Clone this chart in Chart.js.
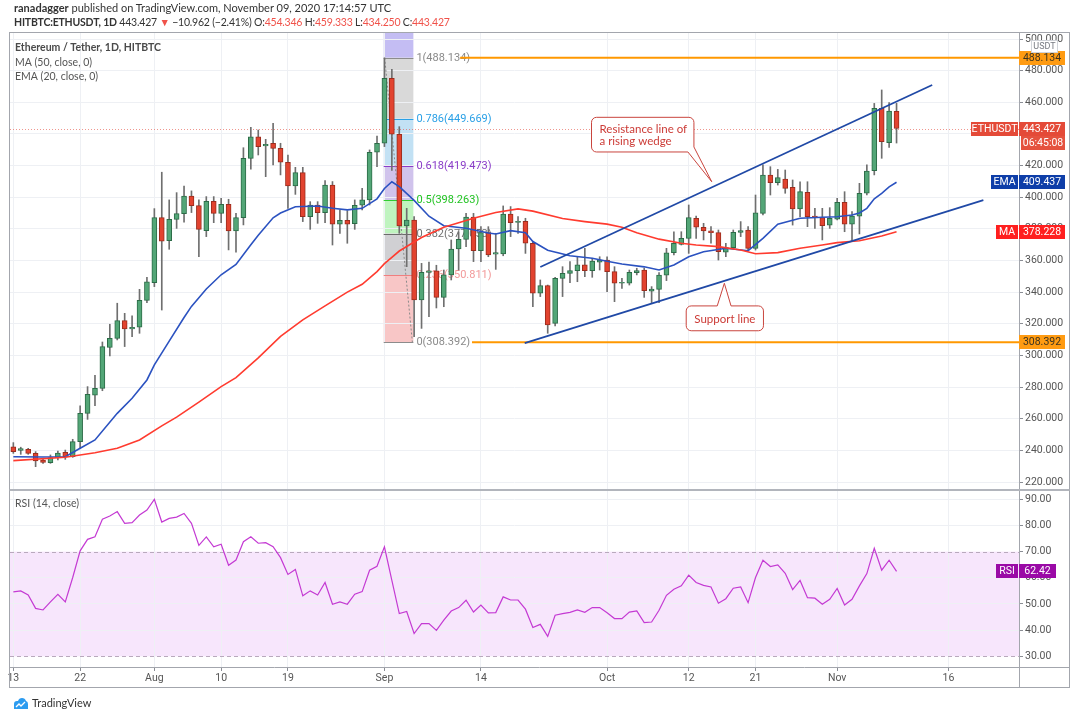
<!DOCTYPE html>
<html>
<head>
<meta charset="utf-8">
<title>ETHUSDT 1D</title>
<script src="https://cdn.jsdelivr.net/npm/chart.js@4.4.1/dist/chart.umd.min.js"></script>
<style>
  body { margin: 0; background: #ffffff; }
  #wrap { position: relative; width: 1083px; height: 716px; overflow: hidden; font-family: Lato, "Noto Sans", sans-serif; color: #333; }
  #chart { position: absolute; left: 0; top: 0; }
  .hd { position: absolute; left: 14px; font-size: 11px; white-space: nowrap; line-height: 14px; }
  .hd2 { font-size: 10.5px; letter-spacing: -0.2px; }
  .red { color: #f0524a; }
  #foot { position: absolute; left: 13px; top: 696px; font-size: 11px; line-height: 14px; display: flex; align-items: center; gap: 3px; color: #333; }
</style>
</head>
<body>
<div id="wrap">
  <canvas id="chart" width="1083" height="716"></canvas>
  <div class="hd" style="top:1px"><b>ranadagger</b> published on TradingView.com, November 09, 2020 17:14:57 UTC</div>
  <div class="hd hd2" style="top:15px"><b>HITBTC:ETHUSDT, 1D</b> 443.427 <span class="red">▼</span> −10.962 (−2.41%) O:<span class="red">454.346</span> H:<span class="red">459.333</span> L:<span class="red">434.250</span> C:<span class="red">443.427</span></div>
  <div id="foot">
    <svg width="16" height="13" viewBox="0 0 16 13"><path d="M1 12 L1 7 Q1 4 4 4 L5 4 Q6 1 9 1 Q12 1 13 4 Q15 4.5 15 7 L15 12 Z" fill="#2d9cf0"/><path d="M3 10 L6 7 L8 9 L12 5" stroke="#fff" stroke-width="1.3" fill="none"/></svg>
    <span>TradingView</span>
  </div>
</div>
<script>
// Daily candles, index 0 = 13 Jul 2020, index 119 = 9 Nov 2020
const openP = [242.3, 240.0, 240.7, 238.1, 233.9, 232.2, 235.4, 238.8, 236.0, 245.5,
  263.4, 274.9, 279.2, 305.0, 310.8, 322.0, 316.7, 317.8, 334.8, 346.0,
  387.1, 372.6, 386.0, 389.6, 400.8, 394.7, 378.9, 397.4, 389.8, 395.5,
  378.7, 387.1, 424.6, 438.1, 432.4, 434.1, 430.9, 422.1, 407.1, 415.5,
  387.7, 395.1, 390.3, 407.7, 382.9, 385.4, 383.3, 394.9, 398.3, 428.4,
  434.1, 475.2, 439.8, 381.8, 385.6, 335.1, 352.5, 353.4, 336.7, 350.9,
  367.3, 373.4, 387.5, 366.2, 377.6, 364.0, 364.1, 389.4, 384.0, 384.8,
  370.9, 339.3, 344.1, 320.3, 348.7, 351.9, 353.6, 357.2, 353.6, 359.0,
  360.3, 353.0, 345.6, 345.6, 352.3, 354.0, 340.7, 341.8, 350.8, 364.9,
  370.1, 374.0, 386.7, 381.0, 378.7, 377.6, 365.2, 368.1, 377.8, 379.3,
  367.7, 389.8, 414.0, 409.2, 411.5, 406.3, 392.6, 403.1, 388.1, 387.1,
  382.4, 386.2, 396.8, 382.9, 388.1, 402.5, 416.8, 456.2, 434.5, 454.346];
const highP = [244.9, 242.0, 241.3, 239.2, 235.0, 237.1, 239.6, 240.2, 247.0, 268.1,
  280.3, 287.4, 308.5, 319.7, 333.0, 326.6, 325.0, 341.8, 349.4, 392.8,
  415.8, 398.3, 402.9, 407.1, 404.0, 398.3, 400.4, 400.4, 399.3, 398.7,
  389.8, 431.3, 444.2, 442.5, 436.6, 446.7, 434.1, 426.7, 418.9, 418.9,
  397.2, 397.2, 410.5, 409.9, 391.9, 391.5, 398.3, 405.6, 429.9, 438.7,
  488.1, 480.9, 444.6, 393.0, 387.7, 358.2, 359.0, 357.0, 354.0, 373.0,
  378.2, 389.8, 389.8, 381.4, 381.4, 377.2, 394.5, 394.1, 387.7, 386.7,
  371.9, 347.7, 344.5, 349.4, 356.1, 359.3, 362.4, 367.7, 361.4, 362.4,
  362.4, 356.1, 348.7, 354.0, 355.1, 355.1, 343.5, 352.3, 367.7, 378.2,
  378.2, 395.1, 388.1, 383.5, 381.4, 379.3, 370.9, 379.3, 384.6, 381.4,
  401.4, 420.4, 419.3, 417.6, 417.2, 410.9, 409.8, 409.8, 393.0, 393.0,
  393.4, 399.3, 403.5, 390.9, 408.8, 420.4, 459.3, 467.8, 459.8, 459.333];
const lowP = [238.1, 237.5, 237.5, 229.7, 231.8, 231.8, 233.9, 234.3, 235.6, 241.3,
  259.6, 268.3, 277.7, 299.7, 309.8, 305.6, 311.9, 314.0, 333.4, 343.5,
  328.7, 367.1, 380.3, 384.2, 390.3, 362.5, 375.1, 383.9, 383.9, 366.7,
  365.2, 382.5, 417.7, 426.7, 413.0, 420.4, 414.1, 393.0, 401.8, 384.6,
  379.7, 383.5, 383.9, 369.8, 377.2, 370.9, 379.7, 391.9, 395.1, 419.3,
  432.0, 417.0, 377.2, 356.1, 311.9, 317.1, 324.5, 330.0, 330.8, 347.7,
  354.0, 368.8, 359.3, 359.3, 362.4, 354.4, 363.0, 375.1, 377.2, 364.5,
  330.8, 337.2, 314.0, 318.6, 337.2, 346.0, 346.6, 349.8, 349.4, 354.0,
  340.3, 334.0, 342.4, 344.5, 350.9, 336.7, 333.4, 333.4, 347.3, 363.5,
  369.8, 364.5, 374.0, 373.0, 370.9, 360.3, 362.4, 367.7, 375.1, 366.6,
  366.6, 388.8, 401.4, 407.7, 402.5, 382.4, 387.7, 381.4, 380.3, 373.0,
  380.3, 385.6, 378.2, 371.9, 376.8, 401.4, 414.1, 424.6, 431.5, 434.25];
const closeP = [239.2, 241.2, 238.1, 233.3, 232.4, 235.4, 238.3, 236.0, 245.5, 263.4,
  275.4, 279.2, 305.6, 310.8, 322.0, 316.7, 317.8, 334.8, 346.6, 387.1,
  372.3, 386.0, 389.6, 400.8, 394.7, 379.7, 397.4, 389.8, 395.5, 378.7,
  387.1, 424.6, 438.1, 432.0, 433.5, 430.9, 422.1, 407.1, 415.5, 387.7,
  395.1, 390.3, 407.7, 382.9, 385.4, 382.9, 394.9, 398.3, 428.4, 434.1,
  475.2, 439.8, 381.8, 385.6, 335.1, 352.5, 353.5, 336.7, 350.9, 367.3,
  373.4, 387.5, 366.2, 377.6, 363.5, 365.0, 389.4, 383.9, 384.8, 370.9,
  339.3, 344.1, 319.3, 348.7, 351.9, 353.6, 357.2, 353.6, 359.7, 360.3,
  353.0, 345.6, 346.2, 352.5, 353.6, 340.9, 342.0, 350.8, 364.9, 370.9,
  374.0, 387.1, 381.0, 378.7, 377.6, 365.6, 368.1, 377.8, 378.9, 367.7,
  390.2, 414.0, 409.2, 412.4, 405.6, 392.6, 403.5, 387.7, 387.1, 382.0,
  386.7, 396.8, 382.9, 388.1, 402.5, 416.6, 456.2, 435.1, 454.5, 443.427];

// RSI (14, close), one value per candle
const rsiValues = [54.6, 55.0, 53.4, 48.3, 47.7, 50.8, 53.7, 50.8, 60.1, 70.3,
  74.7, 75.7, 82.4, 83.6, 85.3, 80.8, 81.1, 84.0, 85.9, 90.0,
  81.3, 82.7, 83.2, 84.6, 80.8, 72.4, 75.6, 71.8, 72.8, 64.8,
  66.8, 73.8, 75.7, 73.2, 73.4, 71.9, 67.7, 61.3, 63.2, 53.1,
  55.0, 53.4, 58.2, 49.9, 50.8, 49.9, 53.7, 54.7, 62.9, 64.4,
  71.8, 59.0, 46.3, 47.1, 38.7, 42.5, 42.5, 39.9, 43.8, 47.3,
  48.6, 51.4, 46.9, 49.6, 46.6, 46.7, 52.7, 51.5, 51.5, 48.0,
  41.0, 42.2, 37.6, 45.7, 46.3, 46.8, 47.7, 46.8, 48.6, 48.6,
  46.6, 44.4, 44.4, 46.9, 47.3, 42.9, 43.1, 47.6, 53.3, 55.6,
  56.9, 61.0, 58.2, 57.1, 56.5, 50.3, 52.0, 56.0, 56.5, 50.5,
  60.1, 66.7, 64.3, 64.9, 61.7, 55.5, 59.0, 52.4, 52.2, 49.9,
  51.8, 55.9, 49.6, 51.8, 56.9, 61.6, 71.3, 62.9, 66.7, 62.42];

// moving averages (day index, value)
const maDays = [0, 7, 11, 14, 17, 20, 22, 25, 28, 30, 33, 36, 39, 42, 45, 47, 49, 50, 51, 52,
  55, 58, 62, 65, 68, 70, 74, 77, 80, 82, 84, 87, 90, 92, 95, 98, 100, 103, 106, 109,
  111, 114, 117, 119];
const maValues = [233.5, 235.6, 238.5, 241.3, 246.6, 255.5, 261, 270.5, 280.3, 286, 298.5, 312, 322.5, 331.3, 340, 345, 353, 358, 362, 366,
  374.5, 381, 386.7, 390.3, 392.6, 391.2, 386.5, 384.6, 383, 381, 377.5, 373.5, 370.9, 369.8, 368.8, 366.6, 364.3, 365, 367.7, 369.8,
  371.3, 372.5, 375.5, 378.228];
const emaDays = [0, 4, 7, 9, 11, 14, 16, 18, 19, 21, 23, 24, 26, 28, 30, 32, 33, 35, 36, 38,
  41, 43, 45, 47, 49, 50, 51, 52, 54, 56, 58, 61, 64, 65, 67, 69, 70, 72, 75, 78,
  80, 82, 85, 87, 89, 91, 93, 96, 99, 101, 103, 106, 109, 111, 113, 114, 115, 116, 117, 118,
  119];
const emaValues = [236.0, 235.8, 236.0, 241.3, 246.6, 263.4, 272.9, 284.5, 294, 309, 324, 331, 342, 351, 357.5, 370, 376, 387, 390, 394,
  394.5, 393, 392, 393, 399, 405.5, 409.8, 406.7, 398, 388, 382, 380.4, 377.4, 376.8, 378.9, 377.5, 372, 366.5, 363, 361.4,
  359.5, 357.8, 356, 354, 357.2, 362.4, 365.5, 367.7, 366.2, 374, 383, 386.7, 387.3, 387.7, 388.8, 390, 393, 399, 402.5, 406.5,
  409.437];

// drawings
const fibRatios = ['1', '0.786', '0.618', '0.5', '0.382', '0.236', '0'];
const fibPrices = [488.134, 449.669, 419.473, 398.263, 377.053, 350.811, 308.392];
const fibDays = [49.9, 53.9];
const levelStartDays = [60.2, 61.8];
const resistDays = [71, 123.8];
const resistValues = [355.9, 470.9];
const supportDays = [68.9, 130.7];
const supportValues = [307.8, 398.2];

// axes
const tickDays = [0, 9, 19, 28, 37, 50, 63, 80, 91, 100, 111, 126];
const tickLabels = ['13', '22', 'Aug', '10', '19', 'Sep', '14', 'Oct', '12', '21', 'Nov', '16'];
const priceTicks = [220, 240, 260, 280, 300, 320, 340, 360, 380, 400, 420, 440, 460, 480, 500];
const rsiTicks = [30, 40, 50, 60, 70, 80, 90];
const xMin = -0.45, xMax = 135.5;

const AXF = '"Liberation Sans Narrow", Roboto, sans-serif';
const TXF = 'Lato, "Noto Sans", sans-serif';
const fibFills = ['#c4bdf3', '#d9d9d9', '#c2e1f4', '#d0c3ec', '#bff4bf', '#d0d0d3', '#f8c6c6'];
const fibLines = ['#8c8c8c', '#2aa0e6', '#8a3cc8', '#30cc30', '#6b6b6b', '#f07f7f', '#8c8c8c'];
const fibTexts = ['#8a8a8a', '#2aa0e6', '#8a3cc8', '#22c322', '#707070', '#f29a9a', '#8a8a8a'];

const days = openP.map((_, i) => i);
const isUp = days.map(i => closeP[i] >= openP[i]);

function lineSet(label, xs, ys, color, width, order, axis) {
    return {
        type: 'line', label,
        data: xs.map((x, k) => ({x: x, y: ys[k]})),
        borderColor: color, borderWidth: width, pointRadius: 0,
        tension: 0, fill: false, order: order, yAxisID: axis
    };
}

// small coloured label on the price axis
function tag(ctx, x0, yc, w, fill, text, color) {
    ctx.fillStyle = fill;
    ctx.fillRect(x0, Math.round(yc) - 7, w, 14);
    ctx.fillStyle = color;
    ctx.textAlign = 'center';
    ctx.textBaseline = 'middle';
    ctx.fillText(text, x0 + w / 2, Math.round(yc) + 0.5);
}

const extras = {
    id: 'extras',
    beforeDraw(chart) {
        const {ctx, scales: {x, y, yRsi}} = chart;
        ctx.save();
        // RSI 30-70 band
        const r70 = yRsi.getPixelForValue(70), r30 = yRsi.getPixelForValue(30);
        ctx.fillStyle = 'rgba(216,130,242,0.2)';
        ctx.fillRect(x.left, r70, x.right - x.left, r30 - r70);
        // fib zones
        const fl = x.getPixelForValue(fibDays[0]), fr = x.getPixelForValue(fibDays[1]);
        let top = y.top;
        fibPrices.forEach((p, k) => {
            const py = y.getPixelForValue(p);
            ctx.fillStyle = fibFills[k];
            ctx.fillRect(fl, top, fr - fl, py - top);
            top = py;
        });
        ctx.restore();
    },
    beforeDatasetsDraw(chart) {
        const {ctx, scales: {x, y, yRsi}} = chart;
        ctx.save();
        const fl = x.getPixelForValue(fibDays[0]), fr = x.getPixelForValue(fibDays[1]);
        ctx.font = '11px ' + AXF;
        ctx.textBaseline = 'middle';
        ctx.textAlign = 'left';
        fibPrices.forEach((p, k) => {
            const py = Math.round(y.getPixelForValue(p)) + 0.5;
            ctx.strokeStyle = fibLines[k];
            ctx.lineWidth = 1;
            ctx.beginPath(); ctx.moveTo(fl, py); ctx.lineTo(fr, py); ctx.stroke();
            ctx.fillStyle = fibTexts[k];
            ctx.fillText(fibRatios[k] + '(' + p.toFixed(3) + ')', fr + 3, py);
        });
        // fib trend line
        ctx.setLineDash([2, 2]);
        ctx.strokeStyle = '#8a8a8a';
        ctx.beginPath();
        ctx.moveTo(fl + 1, y.getPixelForValue(fibPrices[0]));
        ctx.lineTo(fr - 1, y.getPixelForValue(fibPrices[6]));
        ctx.stroke();
        // RSI bounds
        ctx.setLineDash([4, 3]);
        ctx.strokeStyle = '#b9a9bd';
        [70, 30].forEach(v => {
            const py = Math.round(yRsi.getPixelForValue(v)) + 0.5;
            ctx.beginPath(); ctx.moveTo(x.left, py); ctx.lineTo(x.right, py); ctx.stroke();
        });
        // last price line
        ctx.setLineDash([1, 2]);
        ctx.strokeStyle = 'rgba(228,80,66,0.6)';
        const lp = Math.round(y.getPixelForValue(closeP[closeP.length - 1])) + 0.5;
        ctx.beginPath(); ctx.moveTo(x.left, lp); ctx.lineTo(x.right, lp); ctx.stroke();
        ctx.restore();
    },
    afterDatasetsDraw(chart) {
        const {ctx, scales: {x, y}} = chart;
        const X = v => x.getPixelForValue(v), Y = v => y.getPixelForValue(v);
        ctx.save();
        ctx.lineWidth = 1;
        ctx.strokeStyle = '#c9453e';
        ctx.fillStyle = 'rgba(255,255,255,0.95)';
        const rad = 5;
        // callout: resistance line
        let l = X(77.9), r = X(91.7), t = Y(450.5), b = Y(428.6);
        ctx.beginPath();
        ctx.moveTo(l + rad, t);
        ctx.lineTo(r - rad, t);
        ctx.arcTo(r, t, r, t + rad, rad);
        ctx.lineTo(r, b - 5);
        ctx.lineTo(X(94.1), Y(409.8));
        ctx.lineTo(r - 6, b);
        ctx.lineTo(l + rad, b);
        ctx.arcTo(l, b, l, b - rad, rad);
        ctx.lineTo(l, t + rad);
        ctx.arcTo(l, t, l + rad, t, rad);
        ctx.closePath();
        ctx.fill(); ctx.stroke();
        ctx.fillStyle = '#cc3b36';
        ctx.font = '11.5px ' + TXF;
        ctx.textAlign = 'left';
        ctx.textBaseline = 'middle';
        ctx.fillText('Resistance line of', l + 8, t + 12);
        ctx.fillText('a rising wedge', l + 8, t + 23.5);
        // callout: support line
        ctx.fillStyle = 'rgba(255,255,255,0.95)';
        l = X(90.66); r = X(101.07); t = Y(331.3); b = Y(315.6);
        ctx.beginPath();
        ctx.moveTo(l + rad, t);
        ctx.lineTo(X(94.84), t);
        ctx.lineTo(X(95.8), Y(345.6));
        ctx.lineTo(X(96.7), t);
        ctx.lineTo(r - rad, t);
        ctx.arcTo(r, t, r, t + rad, rad);
        ctx.lineTo(r, b - rad);
        ctx.arcTo(r, b, r - rad, b, rad);
        ctx.lineTo(l + rad, b);
        ctx.arcTo(l, b, l, b - rad, rad);
        ctx.lineTo(l, t + rad);
        ctx.arcTo(l, t, l + rad, t, rad);
        ctx.closePath();
        ctx.fill(); ctx.stroke();
        ctx.fillStyle = '#cc3b36';
        ctx.textAlign = 'center';
        ctx.fillText('Support line', (l + r) / 2, (t + b) / 2 + 0.5);
        ctx.restore();
    },
    afterDraw(chart) {
        const {ctx, scales: {x, y, yRsi}} = chart;
        ctx.save();
        // frame
        ctx.strokeStyle = '#a3a6ad';
        ctx.lineWidth = 1;
        ctx.strokeRect(9.5, 32.5, 1060, 655);
        ctx.beginPath();
        ctx.moveTo(y.left + 0.5, 32.5); ctx.lineTo(y.left + 0.5, 687.5);
        ctx.moveTo(9.5, x.top + 0.5); ctx.lineTo(1069.5, x.top + 0.5);
        ctx.stroke();
        ctx.lineWidth = 2;
        ctx.strokeStyle = '#b2b5bc';
        ctx.beginPath(); ctx.moveTo(9.5, y.bottom); ctx.lineTo(1069.5, y.bottom); ctx.stroke();

        // legends
        ctx.textAlign = 'left';
        ctx.textBaseline = 'middle';
        ctx.fillStyle = '#4a4a4a';
        ctx.font = 'bold 10.5px ' + TXF;
        ctx.fillText('Ethereum / Tether, 1D, HITBTC', 15, 48);
        ctx.font = '10.5px ' + TXF;
        ctx.fillStyle = '#555';
        ctx.fillText('MA (50, close, 0)', 15, 62.5);
        ctx.fillText('EMA (20, close, 0)', 15, 77);
        ctx.fillText('RSI (14, close)', 15, 503.5);

        // axis tags
        ctx.font = '10.5px ' + AXF;
        const ax = y.left;
        const last = closeP[closeP.length - 1];
        tag(ctx, ax, y.getPixelForValue(fibPrices[0]), 46, '#ff9b12', fibPrices[0].toFixed(3), '#3b3320');
        tag(ctx, ax, y.getPixelForValue(fibPrices[6]), 46, '#ff9b12', fibPrices[6].toFixed(3), '#3b3320');
        tag(ctx, 971, y.getPixelForValue(last), 47, '#e44a38', 'ETHUSDT', '#fff');
        tag(ctx, ax, y.getPixelForValue(last), 46, '#e44a38', last.toFixed(3), '#fff');
        tag(ctx, ax + 2, y.getPixelForValue(last) + 14, 44, '#e5523f', '06:45:08', '#fff');
        const emaLast = emaValues[emaValues.length - 1], maLast = maValues[maValues.length - 1];
        tag(ctx, 991, y.getPixelForValue(emaLast), 27, '#0e3ea8', 'EMA', '#fff');
        tag(ctx, ax, y.getPixelForValue(emaLast), 46, '#0e3ea8', emaLast.toFixed(3), '#fff');
        tag(ctx, 996, y.getPixelForValue(maLast), 22, '#ff1f1f', 'MA', '#fff');
        tag(ctx, ax, y.getPixelForValue(maLast), 46, '#ff1f1f', maLast.toFixed(3), '#fff');
        const rsiLast = rsiValues[rsiValues.length - 1];
        tag(ctx, 996, yRsi.getPixelForValue(rsiLast), 22, '#9a0aa6', 'RSI', '#fff');
        tag(ctx, ax, yRsi.getPixelForValue(rsiLast), 37, '#9a0aa6', rsiLast.toFixed(2), '#fff');
        // currency box
        ctx.fillStyle = '#fff';
        ctx.fillRect(1031, 40, 27, 13);
        ctx.strokeStyle = '#d0d3d8';
        ctx.lineWidth = 1;
        ctx.strokeRect(1031.5, 40.5, 26, 12);
        ctx.fillStyle = '#787b82';
        ctx.font = '9px ' + AXF;
        ctx.textAlign = 'center';
        ctx.fillText('USDT', 1044.5, 47);
        ctx.restore();
    }
};

const gridColor = '#eef0f4';

new Chart(document.getElementById('chart'), {
    type: 'line',
    data: {
        datasets: [
            {
                type: 'bar', label: 'wick',
                data: days.map(i => ({x: i, y: [lowP[i], highP[i]]})),
                backgroundColor: '#6f6f6f', barThickness: 1, grouped: false,
                order: 3, yAxisID: 'y'
            },
            {
                type: 'bar', label: 'body',
                data: days.map(i => ({x: i, y: [openP[i], closeP[i]]})),
                backgroundColor: isUp.map(u => u ? '#53a677' : '#e2432f'),
                borderColor: isUp.map(u => u ? '#2c6b47' : '#9b2d1e'),
                borderWidth: 1, borderSkipped: false, minBarLength: 1,
                barThickness: 5, grouped: false, order: 2, yAxisID: 'y'
            },
            lineSet('level 1', [levelStartDays[0], xMax + 1], [fibPrices[0], fibPrices[0]], '#ff9800', 2, 4, 'y'),
            lineSet('level 0', [levelStartDays[1], xMax + 1], [fibPrices[6], fibPrices[6]], '#ff9800', 2, 4, 'y'),
            lineSet('MA (50)', maDays, maValues, '#ff3b2f', 1.6, 1, 'y'),
            lineSet('EMA (20)', emaDays, emaValues, '#2b52c0', 1.6, 1, 'y'),
            lineSet('Resistance', resistDays, resistValues, '#2049a6', 1.8, 0, 'y'),
            lineSet('Support', supportDays, supportValues, '#2049a6', 1.8, 0, 'y'),
            lineSet('RSI', days, rsiValues, '#c43ad3', 1.2, 0, 'yRsi')
        ]
    },
    options: {
        responsive: false,
        animation: false,
        events: [],
        layout: {padding: {left: 10, right: 13, top: 33, bottom: 28}},
        plugins: {legend: {display: false}, tooltip: {enabled: false}},
        scales: {
            x: {
                type: 'linear', min: xMin, max: xMax, offset: false,
                afterBuildTicks: s => { s.ticks = tickDays.map(v => ({value: v})); },
                afterFit: s => { s.height = 21; },
                ticks: {
                    callback: v => tickLabels[tickDays.indexOf(v)],
                    autoSkip: false, maxRotation: 0, padding: 1,
                    color: '#555', font: {size: 10.5, family: AXF}
                },
                grid: {color: gridColor, tickLength: 4, tickColor: '#8a8d94', offset: false},
                border: {display: false}
            },
            y: {
                type: 'linear', position: 'right', stack: 'panels', stackWeight: 457,
                min: 214.95, max: 503.8,
                afterBuildTicks: s => { s.ticks = priceTicks.map(v => ({value: v})); },
                afterFit: s => { s.width = 51; },
                ticks: {
                    callback: v => v.toFixed(3), padding: 2, autoSkip: false,
                    color: '#555', font: {size: 10.5, family: AXF}
                },
                grid: {color: gridColor, tickLength: 4, tickColor: '#8a8d94'},
                border: {display: false}
            },
            yRsi: {
                type: 'linear', position: 'right', stack: 'panels', stackWeight: 177,
                min: 25.9, max: 93.55,
                afterBuildTicks: s => { s.ticks = rsiTicks.map(v => ({value: v})); },
                afterFit: s => { s.width = 51; },
                ticks: {
                    callback: v => v.toFixed(2), padding: 2, autoSkip: false,
                    color: '#555', font: {size: 10.5, family: AXF}
                },
                grid: {
                    color: c => (c.tick && (c.tick.value === 30 || c.tick.value === 70)) ? 'rgba(0,0,0,0)' : gridColor,
                    tickLength: 4, tickColor: '#8a8d94'
                },
                border: {display: false}
            }
        }
    },
    plugins: [extras]
});
</script>
</body>
</html>
